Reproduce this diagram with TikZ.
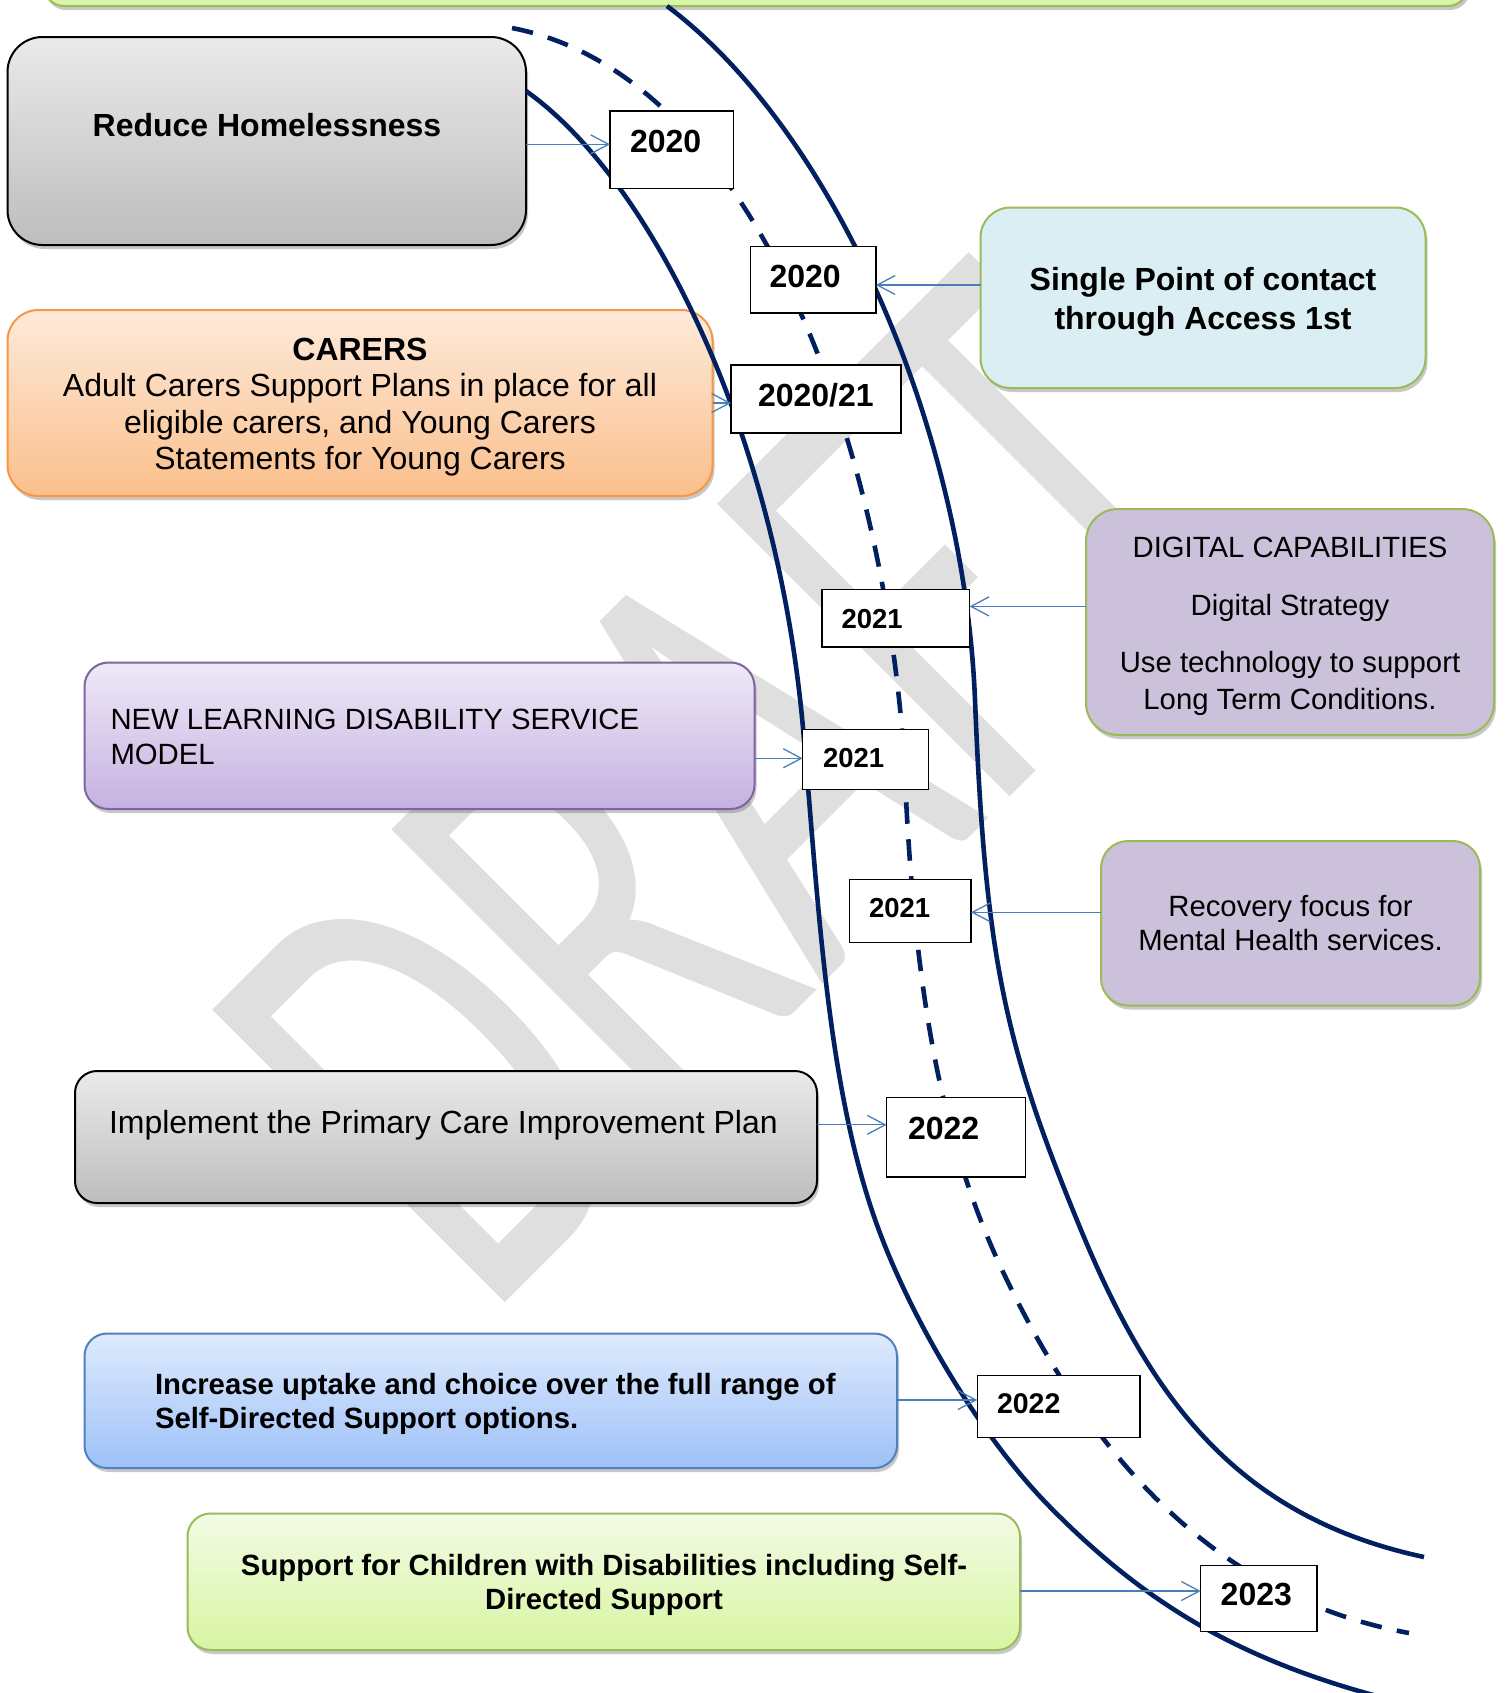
\documentclass[tikz,border=0pt]{standalone}
\usepackage{graphicx}
\usepackage{fontspec}
\setmainfont{Liberation Sans}
\newfontfamily\wmfont{Carlito}
\usetikzlibrary{arrows.meta,shadows}

\definecolor{navy}{HTML}{002060}
\definecolor{linkblue}{HTML}{4A7EBB}
\definecolor{leaf}{HTML}{9BBB59}
\definecolor{amber}{HTML}{F79646}
\definecolor{plum}{HTML}{8064A2}
\definecolor{steel}{HTML}{4F81BD}
\definecolor{wmgray}{RGB}{223,223,223}
\definecolor{greyTop}{HTML}{EAEAEA}
\definecolor{greyBot}{HTML}{BDBDBD}
\definecolor{orTop}{HTML}{FDEADB}
\definecolor{orBot}{HTML}{FBBF8B}
\definecolor{skyFill}{HTML}{DAEEF3}
\definecolor{lilacFill}{HTML}{CCC1DA}
\definecolor{puTop}{HTML}{EFE9F7}
\definecolor{puBot}{HTML}{C5B1E1}
\definecolor{blTop}{HTML}{DEEAFD}
\definecolor{blBot}{HTML}{9EC1F8}
\definecolor{grTop}{HTML}{F3FBE5}
\definecolor{grBot}{HTML}{D7F5A2}

\newcommand\fsz[2]{\fontsize{#1pt}{#2pt}\selectfont}

\begin{document}
\begin{tikzpicture}[x=0.5pt, y=-0.5pt,
  panel/.style={rectangle, inner sep=0pt, outer sep=0pt, line width=1pt,
    drop shadow={shadow xshift=1pt, shadow yshift=-2pt, opacity=0.3, fill=black!70}},
  yearbox/.style={rectangle, draw=black, fill=white, line width=0.75pt,
    inner sep=0pt, outer sep=0pt},
  txt/.style={inner sep=0pt, outer sep=0pt},
  road/.style={draw=navy, line width=2.3pt},
  lane/.style={road, dash pattern=on 10.75pt off 7.75pt},
  feed/.style={draw=linkblue, line width=0.65pt,
    -{Straight Barb[length=9pt, width=9.5pt]}}
]
\useasboundingbox (0,0) rectangle (1507,1693);
\clip (0,0) rectangle (1507,1693);
\fill[white] (0,0) rectangle (1507,1693);

% watermark
\node[txt, rotate=45, anchor=base west, text=wmgray] (draft) at (485,1322)
  {\scalebox{0.638}[1]{\wmfont\fsz{322.5}{330}DRAFT}};

% goal panels
\node[panel, draw=leaf, top color=grTop, bottom color=grBot, rounded corners=10pt,
  minimum width=712pt, minimum height=33pt] (topbox) at (756,-27) {};
\node[panel, draw=black, top color=greyTop, bottom color=greyBot, rounded corners=17.5pt,
  minimum width=259.25pt, minimum height=104pt] (reduce) at (266.75,141) {};
\node[panel, draw=amber, top color=orTop, bottom color=orBot, rounded corners=15.5pt,
  minimum width=352.5pt, minimum height=93pt] (carers) at (360,403) {};
\node[panel, draw=leaf, fill=skyFill, rounded corners=15pt,
  minimum width=222.5pt, minimum height=90.25pt] (single) at (1203,297.75) {};
\node[panel, draw=leaf, fill=lilacFill, rounded corners=16pt,
  minimum width=204pt, minimum height=113pt] (digital) at (1290,622) {};
\node[panel, draw=plum, top color=puTop, bottom color=puBot, rounded corners=12pt,
  minimum width=335pt, minimum height=73.25pt] (newld) at (419.5,735.75) {};
\node[panel, draw=leaf, fill=lilacFill, rounded corners=13.5pt,
  minimum width=189.5pt, minimum height=82.25pt] (recovery) at (1290.5,923.25) {};
\node[panel, draw=black, top color=greyTop, bottom color=greyBot, rounded corners=11pt,
  minimum width=371pt, minimum height=66pt] (implement) at (446,1137) {};
\node[panel, draw=steel, top color=blTop, bottom color=blBot, rounded corners=11.25pt,
  minimum width=406.25pt, minimum height=67.25pt] (increase) at (490.75,1400.75) {};
\node[panel, draw=leaf, top color=grTop, bottom color=grBot, rounded corners=11.5pt,
  minimum width=416.25pt, minimum height=68.25pt] (support) at (603.75,1581.75) {};

% panel texts
\node[txt, anchor=base] (reduceT) at (267,136) {\fsz{16}{19}\bfseries Reduce Homelessness};
\node[txt, anchor=base] (singleT) at (1203,290.5)
  {\parbox[t]{260pt}{\centering\fsz{16}{19.25}\bfseries Single Point of contact\\through Access 1st}};
\node[txt, anchor=base] (carersT) at (360,360)
  {\parbox[t]{340pt}{\centering\fsz{16}{18.25}\textbf{CARERS}\\Adult Carers Support Plans in place for all\\eligible carers, and Young Carers\\Statements for Young Carers}};
\node[txt, anchor=base] (digitalT) at (1290,557.8)
  {\parbox[t]{200pt}{\centering\fsz{14.65}{18.2}DIGITAL CAPABILITIES\\[10.5pt]Digital Strategy\\[10.5pt]Use technology to support\\Long Term Conditions.}};
\node[txt, anchor=base west] (newldT) at (110.5,729.5)
  {\parbox[t]{330pt}{\raggedright\fsz{14.65}{17.25}NEW LEARNING DISABILITY SERVICE\\MODEL}};
\node[txt, anchor=base] (recoveryT) at (1290.5,916)
  {\parbox[t]{185pt}{\centering\fsz{14.65}{17}Recovery focus for\\Mental Health services.}};
\node[txt, anchor=base west] (implementT) at (109,1133.5)
  {\fsz{16}{19}Implement the Primary Care Improvement Plan};
\node[txt, anchor=base west] (increaseT) at (155,1394)
  {\parbox[t]{380pt}{\raggedright\fsz{14.65}{17.25}\bfseries Increase uptake and choice over the full range of\\Self-Directed Support options.}};
\node[txt, anchor=base] (supportT) at (604,1575.5)
  {\parbox[t]{400pt}{\centering\fsz{14.65}{17}\bfseries Support for Children with Disabilities including Self-\\Directed Support}};

% the road: two edges and a dashed centre line
\draw[road] (526,91) .. controls (649,178) and (776,428) .. (803,728)
  .. controls (818.3,898) and (826,1084) .. (877,1225)
  .. controls (911,1319) and (980,1436) .. (1050,1507)
  .. controls (1148,1606.4) and (1244.8,1663.6) .. (1400,1702);
\draw[road] (667,6) .. controls (835,132) and (964.2,430) .. (975,700)
  .. controls (985.4,960) and (1005,1046) .. (1081,1230)
  .. controls (1151.3,1400.2) and (1237.8,1517.1) .. (1424,1557);
\draw[lane] (512,28) .. controls (747.2,73.6) and (880.9,425) .. (904,755)
  .. controls (913.2,985) and (939.5,1139) .. (1004,1274)
  .. controls (1090,1454) and (1213,1597) .. (1409,1633);

% milestone boxes
\node[yearbox, minimum width=61.65pt, minimum height=38.65pt] (yr1) at (671.65,149.65) {};
\node[yearbox, minimum width=62.75pt, minimum height=33.1pt] (yr2) at (813.05,279.8) {};
\node[yearbox, minimum width=85pt, minimum height=34pt] (yr3) at (816,399) {};
\node[yearbox, minimum width=73.8pt, minimum height=28.7pt] (yr4) at (895.8,618.3) {};
\node[yearbox, minimum width=62.8pt, minimum height=30pt] (yr5) at (865.5,759.3) {};
\node[yearbox, minimum width=60.85pt, minimum height=31.7pt] (yr6) at (910.15,911) {};
\node[yearbox, minimum width=69.45pt, minimum height=39.85pt] (yr7) at (956.05,1137.15) {};
\node[yearbox, minimum width=81.35pt, minimum height=31pt] (yr8) at (1058.65,1406.3) {};
\node[yearbox, minimum width=58.15pt, minimum height=33.2pt] (yr9) at (1258.85,1598.5) {};

\node[txt, anchor=base west] (yr1T) at (630,152) {\fsz{16}{19}\bfseries 2020};
\node[txt, anchor=base west] (yr2T) at (769.5,287) {\fsz{16}{19}\bfseries 2020};
\node[txt, anchor=base west] (yr3T) at (758,406) {\fsz{16}{19}\bfseries 2020/21};
\node[txt, anchor=base west] (yr4T) at (841.5,628) {\fsz{13.75}{16}\bfseries 2021};
\node[txt, anchor=base west] (yr5T) at (823,767) {\fsz{13.75}{16}\bfseries 2021};
\node[txt, anchor=base west] (yr6T) at (869,917) {\fsz{13.75}{16}\bfseries 2021};
\node[txt, anchor=base west] (yr7T) at (908,1139) {\fsz{16}{19}\bfseries 2022};
\node[txt, anchor=base west] (yr8T) at (997,1413) {\fsz{14.25}{17}\bfseries 2022};
\node[txt, anchor=base west] (yr9T) at (1220.7,1605) {\fsz{16}{19}\bfseries 2023};

% connector heights
\coordinate (h1) at (0,144.3);
\coordinate (h2) at (0,285);
\coordinate (h3) at (0,403);
\coordinate (h4) at (0,606.4);
\coordinate (h5) at (0,758.3);
\coordinate (h6) at (0,912.3);
\coordinate (h7) at (0,1124.8);
\coordinate (h8) at (0,1400);
\coordinate (h9) at (0,1591);

\draw[feed] (reduce.east |- h1) -- (yr1.west |- h1);
\draw[feed] (single.west |- h2) -- (yr2.east |- h2);
\draw[feed] (carers.east |- h3) -- (yr3.west |- h3);
\draw[feed] (digital.west |- h4) -- (yr4.east |- h4);
\draw[feed] (newld.east |- h5) -- (yr5.west |- h5);
\draw[feed] (recovery.west |- h6) -- (yr6.east |- h6);
\draw[feed] (implement.east |- h7) -- (yr7.west |- h7);
\draw[feed] (increase.east |- h8) -- (yr8.west |- h8);
\draw[feed] (support.east |- h9) -- (yr9.west |- h9);
\end{tikzpicture}
\end{document}
